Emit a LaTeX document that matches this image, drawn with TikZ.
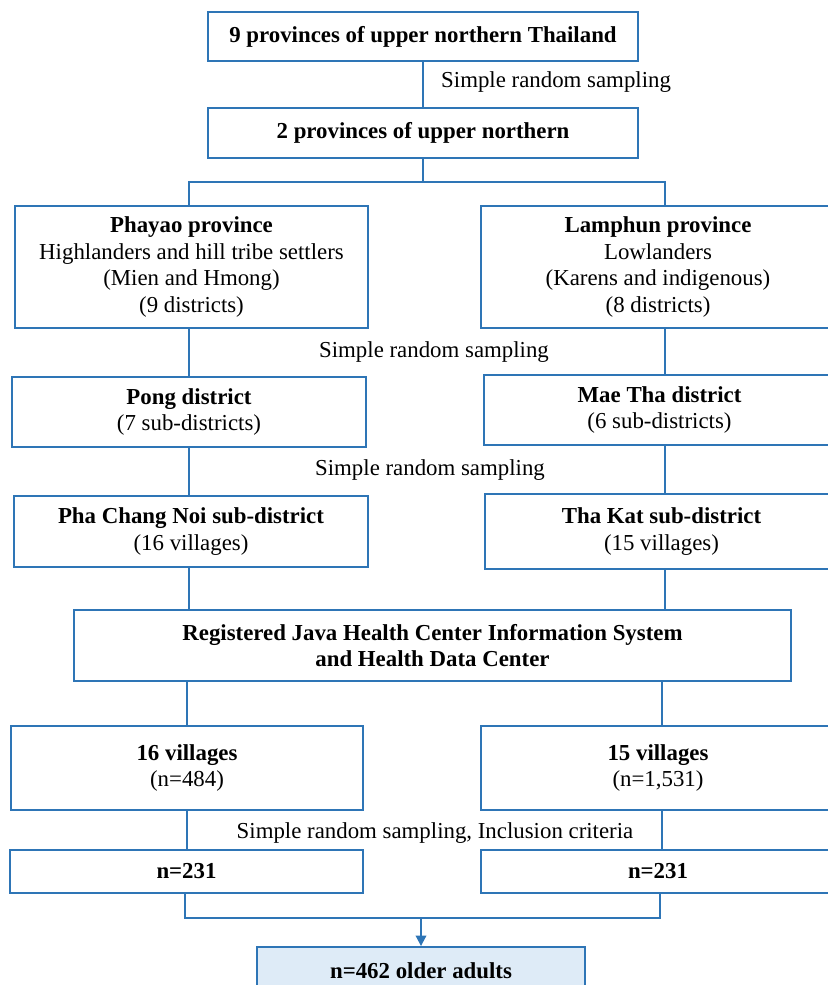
\documentclass[tikz,border=0pt]{standalone}
\usepackage{fontspec}
\setmainfont{Liberation Serif}
\usetikzlibrary{arrows.meta}
\definecolor{flowBlue}{RGB}{46,117,182}
\definecolor{flowFill}{RGB}{222,235,247}

\begin{document}
\begin{tikzpicture}[x=0.03cm, y=-0.03cm, font=\fontsize{19.5}{22.5}\selectfont]
\tikzstyle{boxStyle}=[shape=rectangle, draw=flowBlue, line width=1.6pt, align=center, inner sep=2pt]
\tikzstyle{lineStyle}=[draw=flowBlue, line width=1.6pt]
\tikzstyle{noteStyle}=[inner sep=0pt]
\useasboundingbox (0,0) rectangle (827,985);
% boxes
\node[boxStyle, minimum width=12.9cm, minimum height=1.47cm] (prov9) at (423,36.5) {\textbf{9 provinces of upper northern Thailand}};
\node[boxStyle, minimum width=12.9cm, minimum height=1.5cm] (prov2) at (423,133) {\textbf{2 provinces of upper northern}};
\node[boxStyle, minimum width=10.59cm, minimum height=3.66cm] (phayao) at (191.5,267) {\textbf{Phayao province}\\Highlanders and hill tribe settlers\\(Mien and Hmong)\\(9 districts)};
\node[boxStyle, minimum width=10.62cm, minimum height=3.66cm] (lamphun) at (658,267) {\textbf{Lamphun province}\\Lowlanders\\(Karens and indigenous)\\(8 districts)};
\node[boxStyle, minimum width=10.62cm, minimum height=2.1cm] (pong) at (189,412) {\textbf{Pong district}\\(7 sub-districts)};
\node[boxStyle, minimum width=10.53cm, minimum height=2.1cm] (maetha) at (659.5,410) {\textbf{Mae Tha district}\\(6 sub-districts)};
\node[boxStyle, minimum width=10.62cm, minimum height=2.13cm] (phachang) at (191,531.5) {\textbf{Pha Chang Noi sub-district}\\(16 villages)};
\node[boxStyle, minimum width=10.59cm, minimum height=2.25cm] (thakat) at (661.5,531.5) {\textbf{Tha Kat sub-district}\\(15 villages)};
\node[boxStyle, minimum width=21.51cm, minimum height=2.13cm] (registry) at (432.5,645.5) {\textbf{Registered Java Health Center Information System}\\\textbf{and Health Data Center}};
\node[boxStyle, minimum width=10.56cm, minimum height=2.52cm] (vill16) at (187,768) {\textbf{16 villages}\\(n=484)};
\node[boxStyle, minimum width=10.62cm, minimum height=2.52cm] (vill15) at (658,768) {\textbf{15 villages}\\(n=1,531)};
\node[boxStyle, minimum width=10.59cm, minimum height=1.29cm] (sampleL) at (186.5,871.5) {\textbf{n=231}};
\node[boxStyle, minimum width=10.62cm, minimum height=1.29cm] (sampleR) at (658,871.5) {\textbf{n=231}};
\node[boxStyle, fill=flowFill, minimum width=9.84cm, minimum height=1.44cm] (total) at (421,971) {\textbf{n=462 older adults}};
% sampling notes
\node[noteStyle, anchor=west] (note1) at (441,82) {Simple random sampling};
\node[noteStyle] (note2) at (434,352) {Simple random sampling};
\node[noteStyle] (note3) at (430,470) {Simple random sampling};
\node[noteStyle] (note4) at (435,833) {Simple random sampling, Inclusion criteria};
% connectors
\coordinate (splitL) at (189,182);
\coordinate (splitR) at (665,182);
\coordinate (lowL) at (187,700);
\coordinate (lowR) at (662,700);
\coordinate (joinL) at (185,918);
\coordinate (joinR) at (660,918);
\path[lineStyle] (prov9) -- (prov2);
\path[lineStyle] (prov2.south) -- (prov2.south |- splitL);
\path[lineStyle] (splitL |- phayao.north) -- (splitL) -- (splitR) -- (splitR |- lamphun.north);
\path[lineStyle] (phayao.south -| splitL) -- (pong.north -| splitL);
\path[lineStyle] (lamphun.south -| splitR) -- (maetha.north -| splitR);
\path[lineStyle] (pong.south -| splitL) -- (phachang.north -| splitL);
\path[lineStyle] (maetha.south -| splitR) -- (thakat.north -| splitR);
\path[lineStyle] (phachang.south -| splitL) -- (registry.north -| splitL);
\path[lineStyle] (thakat.south -| splitR) -- (registry.north -| splitR);
\path[lineStyle] (registry.south -| lowL) -- (vill16.north -| lowL);
\path[lineStyle] (registry.south -| lowR) -- (vill15.north -| lowR);
\path[lineStyle] (vill16.south -| lowL) -- (sampleL.north -| lowL);
\path[lineStyle] (vill15.south -| lowR) -- (sampleR.north -| lowR);
\path[lineStyle] (sampleL.south -| joinL) -- (joinL) -- (joinR) -- (sampleR.south -| joinR);
\path[lineStyle, -{Triangle[length=9pt, width=9pt]}, fill=flowBlue] (total.north |- joinL) -- (total.north);
\end{tikzpicture}
\end{document}
